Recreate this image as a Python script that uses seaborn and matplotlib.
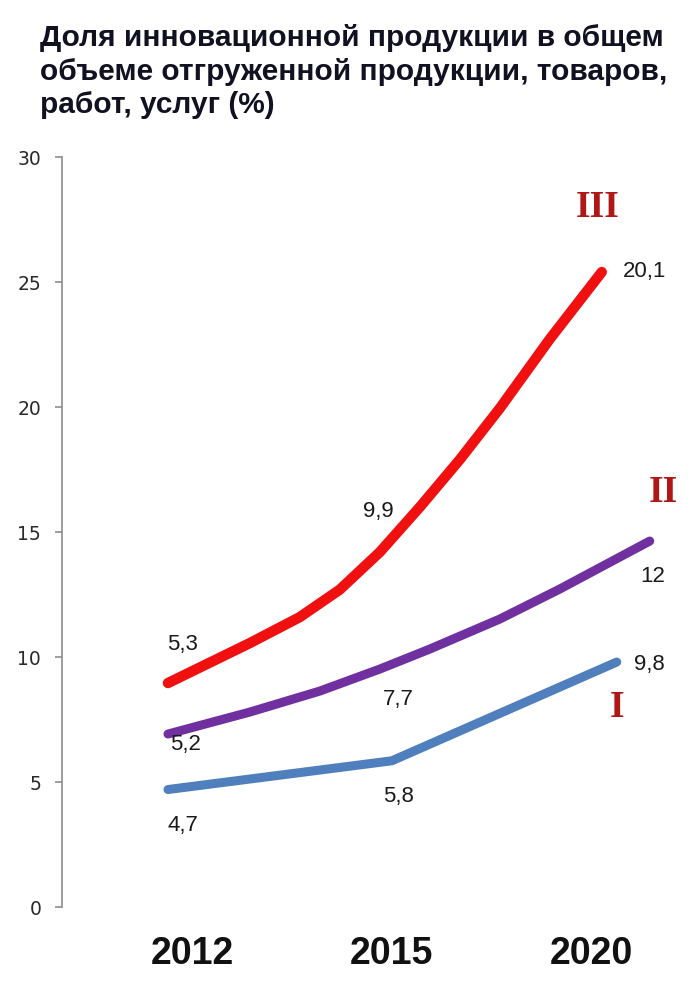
import numpy as np
import pandas as pd
import matplotlib.pyplot as plt
import seaborn as sns

sns.set_theme(style='white')
plt.rcParams['font.family'] = ['Liberation Sans', 'DejaVu Sans']

# x axis categories
years = ['2012', '2015', '2020']

# curves as drawn in the picture (x = category position, 0 -> 2012)
x_III = [-0.12, 0.29, 0.54, 0.74, 0.94, 1.14, 1.34, 1.54, 1.79, 2.05]
y_III = [8.96, 10.56, 11.6, 12.7, 14.2, 16.0, 17.9, 19.95, 22.72, 25.4]
x_II = [-0.12, 0.29, 0.64, 0.94, 1.19, 1.54, 1.84, 2.29]
y_II = [6.92, 7.8, 8.64, 9.52, 10.32, 11.52, 12.72, 14.64]
x_I = [-0.12, 1.0, 2.125]
y_I = [4.7, 5.85, 9.8]

# values printed next to the curves
labels_III = ['5,3', '9,9', '20,1']
labels_II = ['5,2', '7,7', '12']
labels_I = ['4,7', '5,8', '9,8']

yticks = [0, 5, 10, 15, 20, 25, 30]
title = 'Доля инновационной продукции в общем\nобъеме отгруженной продукции, товаров,\nработ, услуг (%)'

fig = plt.figure(figsize=(6.92, 9.81), dpi=100)
ax = fig.add_axes([0.0896, 0.0754, 0.910, 0.7645])

series = [
    ('III', x_III, y_III, '#f01010', 7.5),
    ('II', x_II, y_II, '#7030a0', 6.5),
    ('I', x_I, y_I, '#4f7fbd', 6.5),
]
for name, xs, ys, col, lw in series:
    df = pd.DataFrame({'x': xs, 'y': ys})
    sns.lineplot(data=df, x='x', y='y', sort=False, estimator=None, color=col,
                 linewidth=lw, solid_capstyle='round', solid_joinstyle='round', ax=ax)

# value labels, offsets in pixels from the anchor point on the curve
def put(txt, x, y, dx, dy, **kw):
    ax.annotate(txt, (x, y), xytext=(dx, dy), textcoords='offset pixels',
                ha=kw.pop('ha', 'center'), va='center', **kw)

vkw = dict(fontsize=16, color='#1a1a1a')
rkw = dict(fontsize=27, color='#b01818', fontweight='bold', family='Liberation Serif')

put(labels_III[0], x_III[0], y_III[0], 15, 39, **vkw)
put(labels_III[1], x_III[4], y_III[4], -2, 41, **vkw)
put(labels_III[2], x_III[-1], y_III[-1], 21, 1, ha='left', **vkw)
put('III', x_III[-1], y_III[-1], -4, 65, **rkw)

put(labels_II[0], x_II[0], y_II[0], 18, -10, **vkw)
put(labels_II[1], x_II[3], y_II[3], 18, -30, **vkw)
put(labels_II[2], x_II[-1], y_II[-1], 3, -35, **vkw)
put('II', x_II[-1], y_II[-1], 14, 49, **rkw)

put(labels_I[0], x_I[0], y_I[0], 15, -36, **vkw)
put(labels_I[1], x_I[1], y_I[1], 7, -36, **vkw)
put(labels_I[2], x_I[-1], y_I[-1], 33, -2, **vkw)
put('I', x_I[-1], y_I[-1], 0, -45, **rkw)

ax.set_xlim(-0.65, 2.5)
ax.set_ylim(0, 30)
ax.set_xticks(range(len(years)))
ax.set_xticklabels(years, fontsize=27, fontweight='bold', color='#111111')
ax.set_yticks(yticks)
ax.set_yticklabels([str(v) for v in yticks], fontsize=13.5, family='DejaVu Sans', color='#2a2a2a')
ax.set_xlabel('')
ax.set_ylabel('')

for s in ['top', 'right', 'bottom']:
    ax.spines[s].set_visible(False)
ax.spines['left'].set_color('#8c8c8c')
ax.spines['left'].set_linewidth(1.2)
ax.tick_params(axis='y', left=True, length=5, width=1.2, color='#8c8c8c', pad=10)
ax.tick_params(axis='x', length=0, pad=21)

fig.text(0.058, 1 - 24 / 981, title, ha='left', va='top', fontsize=21.5,
         fontweight='bold', color='#111122', linespacing=1.25)

fig.savefig('out.png', dpi=100, facecolor='white')
